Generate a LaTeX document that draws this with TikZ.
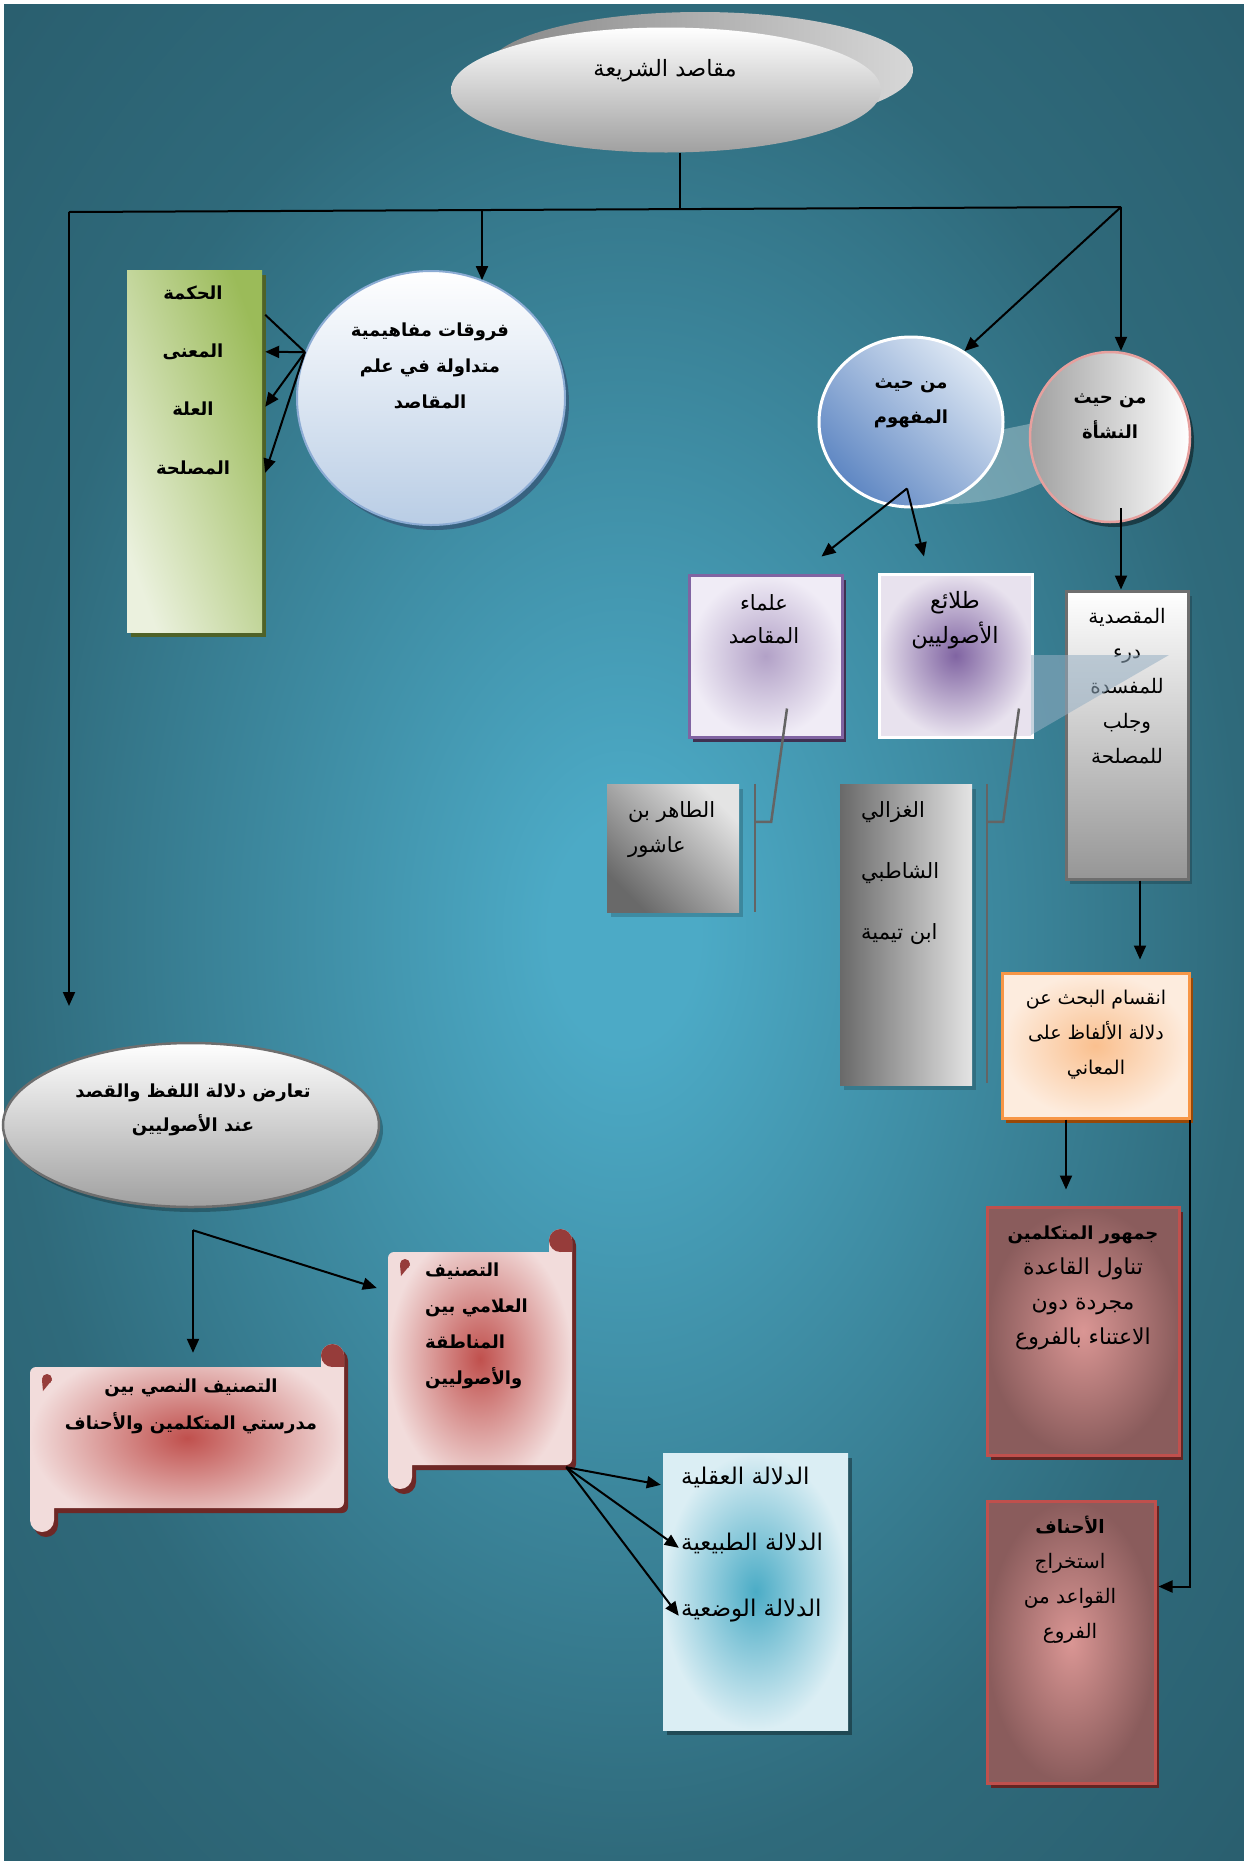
\documentclass[tikz,border=0pt]{standalone}
\usepackage{fontspec}
\usetikzlibrary{arrows.meta,shapes.geometric,shadows,calc}
\TeXXeTstate=1
\newfontfamily\arabicfont[Script=Arabic]{DejaVu Sans}
\newcommand\RL[1]{\beginR#1\endR}

% palette
\definecolor{bgIn}{RGB}{76,170,198}
\definecolor{bgOut}{RGB}{47,106,123}
\definecolor{bgCorner}{RGB}{42,95,111}
\definecolor{backL}{RGB}{135,135,135}
\definecolor{backR}{RGB}{215,215,215}
\definecolor{ovalBot}{RGB}{160,160,160}
\definecolor{furuqBorder}{RGB}{140,172,212}
\definecolor{furuqBot}{RGB}{185,205,229}
\definecolor{furuqShadow}{RGB}{55,98,128}
\definecolor{greenLight}{RGB}{235,241,222}
\definecolor{greenDark}{RGB}{155,187,89}
\definecolor{greenShadow}{RGB}{79,98,40}
\definecolor{mafLight}{RGB}{222,232,244}
\definecolor{mafDark}{RGB}{95,135,195}
\definecolor{nashaBorder}{RGB}{230,160,158}
\definecolor{nashaLeft}{RGB}{160,160,160}
\definecolor{olamaBorder}{RGB}{128,100,162}
\definecolor{olamaIn}{RGB}{178,161,199}
\definecolor{olamaOut}{RGB}{240,236,246}
\definecolor{olamaShadow}{RGB}{63,49,81}
\definecolor{talaeiIn}{RGB}{128,100,162}
\definecolor{talaeiOut}{RGB}{232,226,238}
\definecolor{maqBorder}{RGB}{110,110,110}
\definecolor{maqBot}{RGB}{150,150,150}
\definecolor{wedgeCol}{RGB}{150,175,195}
\definecolor{greyLight}{RGB}{228,228,228}
\definecolor{greyDark}{RGB}{105,105,105}
\definecolor{brkGray}{RGB}{100,100,100}
\definecolor{orangeIn}{RGB}{250,192,143}
\definecolor{orangeOut}{RGB}{253,236,222}
\definecolor{orangeBorder}{RGB}{247,150,70}
\definecolor{orangeShadow}{RGB}{152,72,7}
\definecolor{roseIn}{RGB}{218,150,148}
\definecolor{roseOut}{RGB}{138,92,92}
\definecolor{roseBorder}{RGB}{192,80,77}
\definecolor{roseShadow}{RGB}{99,37,35}
\definecolor{scrollIn}{RGB}{192,80,77}
\definecolor{scrollOut}{RGB}{242,220,219}
\definecolor{scrollShadow}{RGB}{110,40,38}
\definecolor{curlDark}{RGB}{150,60,58}
\definecolor{blueIn}{RGB}{75,172,198}
\definecolor{blueOut}{RGB}{219,238,244}

\pgfdeclareradialshading{pageshade}{\pgfpoint{0bp}{0bp}}{color(0bp)=(bgIn); color(3bp)=(bgIn); color(25bp)=(bgOut); color(35bp)=(bgCorner); color(50bp)=(bgCorner)}

% horizontal scroll outline: left, top, right, bottom, path options
\newcommand\drawscroll[5]{%
  \path[#5] (#1,#2+6) arc[start angle=180,end angle=90,radius=6pt]
    -- (#3-23,#2) -- (#3-23,#2-11.5) arc[start angle=180,end angle=0,radius=11.5pt]
    -- (#3,#4-6) arc[start angle=0,end angle=-90,radius=6pt]
    -- (#1+24,#4) -- (#1+24,#4+12) arc[start angle=0,end angle=-180,radius=12pt]
    -- cycle;}
% rolled ends of a scroll
\newcommand\scrollcurls[3]{%
  \fill[curlDark] (#3-11.5,#2-11.5) circle[radius=11.5pt];
  \fill[curlDark] (#3-11.5,#2-11.5) rectangle (#3,#2);
  \fill[curlDark] (#1+17,#2+12) circle[radius=5pt];
  \fill[curlDark] (#1+12,#2+13) -- (#1+22,#2+13) -- (#1+13,#2+24) -- cycle;}

\begin{document}
\begin{tikzpicture}[x=1pt,y=-1pt,
  arr/.style={draw=black,line width=2pt,-{Triangle[length=14pt,width=12pt]}},
  ln/.style={draw=black,line width=2pt},
  brk/.style={draw=brkGray,line width=2.5pt},
  txr/.style 2 args={font=\arabicfont\fontsize{#1}{#2}\selectfont,align=center,inner sep=0pt},
  txb/.style 2 args={font=\arabicfont\bfseries\fontsize{#1}{#2}\selectfont,align=center,inner sep=0pt},
  box/.style={rectangle,inner sep=0pt},
  oval/.style={ellipse,inner sep=0pt},
  hardshadow/.style={drop shadow={shadow xshift=4pt,shadow yshift=-5pt,fill=#1,opacity=1}},
  softshadow/.style={drop shadow={shadow xshift=4pt,shadow yshift=-5pt,fill=black,opacity=#1}},
]
\useasboundingbox (0,0) rectangle (1244,1861);
\fill[white] (0,0) rectangle (1244,1861);
\path[shading=pageshade] (4,4) rectangle (1244,1861);

% ---------- title ----------
\path[left color=backL,right color=backR] (700,70) ellipse[x radius=213,y radius=58];
\node[oval,minimum width=430pt,minimum height=125pt,top color=white,bottom color=ovalBot] (sharia) at (666,90) {};
\node[txr={22.5pt}{28pt}] (sharia-t) at (665,71) {\RL{مقاصد الشريعة}};

% ---------- distribution bus ----------
\coordinate (busL) at (69,212);
\coordinate (busR) at (1121,207);
\coordinate (busM) at (680,209.4);
\coordinate (busF) at (482,210.3);
\coordinate (leftEnd) at (69,1006);
\draw[ln] ([xshift=14pt]sharia.south) -- (busM);
\draw[ln] (busL) -- (busR);
\draw[arr] (busL) -- (leftEnd);

% ---------- conceptual differences ----------
\node[oval,minimum width=268pt,minimum height=254pt,draw=furuqBorder,line width=2pt,
      top color=white,bottom color=furuqBot,hardshadow=furuqShadow] (furuq) at (431,398) {};
\node[txb={18pt}{36pt}] (furuq-t) at (430,366) {\RL{فروقات مفاهيمية}\\\RL{متداولة في علم}\\\RL{المقاصد}};
\draw[arr] (busF) -- (busF |- furuq.66);

\node[box,minimum width=135pt,minimum height=362pt,top color=greenLight,bottom color=greenDark,
      shading angle=110,hardshadow=greenShadow] (hikma) at (194.5,451) {};
\node[txb={18pt}{24pt}] (hikma-1) at (193,293) {\RL{الحكمة}};
\node[txb={18pt}{24pt}] (hikma-2) at (193,352) {\RL{المعنى}};
\node[txb={18pt}{24pt}] (hikma-3) at (193,409) {\RL{العلة}};
\node[txb={18pt}{24pt}] (hikma-4) at (193,468) {\RL{المصلحة}};
\coordinate (fk) at (furuq.160);
\draw[ln] (fk) -- ($(hikma.north east)+(3,45)$);
\draw[arr] (fk) -- ($(hikma.north east)+(3,82)$);
\draw[arr] (fk) -- ($(hikma.north east)+(3,137)$);
\draw[arr] (fk) -- ($(hikma.north east)+(3,203)$);

% ---------- concept / origin ----------
\fill[white,opacity=.3] (1000,430) -- (1034,423) -- (1044,482) .. controls (1010,498) and (975,505) .. (940,504) -- cycle;
\node[oval,minimum width=184pt,minimum height=170pt,draw=white,line width=3pt,
      top color=mafLight,bottom color=mafDark,shading angle=-45] (mafhum) at (911,422) {};
\node[txb={18pt}{35pt}] (mafhum-t) at (911,403) {\RL{من حيث}\\\RL{المفهوم}};
\node[oval,minimum width=160pt,minimum height=170pt,draw=nashaBorder,line width=2.5pt,
      left color=nashaLeft,right color=white,softshadow=.45] (nasha) at (1110,437) {};
\node[txb={18pt}{35pt}] (nasha-t) at (1110,416) {\RL{من حيث}\\\RL{النشأة}};
\draw[arr] (busR) -- (mafhum.53);
\draw[arr] (busR) -- (busR |- nasha.north);

% ---------- schools ----------
\node[box,minimum width=153pt,minimum height=162pt,draw=olamaBorder,line width=3pt,
      inner color=olamaIn,outer color=olamaOut,hardshadow=olamaShadow] (olama) at (765.5,656) {};
\node[txr={21pt}{33pt}] (olama-t) at (764,619) {\RL{علماء}\\\RL{المقاصد}};
\node[box,minimum width=153pt,minimum height=163pt,draw=white,line width=3pt,
      inner color=talaeiIn,outer color=talaeiOut] (talaei) at (955.5,655.5) {};
\node[txr={22.5pt}{35pt}] (talaei-t) at (955,620) {\RL{طلائع}\\\RL{الأصوليين}};
\node[box,minimum width=122pt,minimum height=288pt,draw=maqBorder,line width=3pt,
      top color=white,bottom color=maqBot,softshadow=.2] (maqsadiya) at (1127,735) {};
\node[txr={20pt}{35pt}] (maqsadiya-t) at (1127,686) {\RL{المقصدية}\\\RL{درء}\\\RL{للمفسدة}\\\RL{وجلب}\\\RL{للمصلحة}};
\fill[wedgeCol,opacity=.55] (1031,655) -- (1169,655) -- (1031,735) -- cycle;

\coordinate (mfo) at ($(mafhum.south)+(-4,-20)$);
\coordinate (olamaIn) at ($(olama.north)+(56,-17)$);
\coordinate (talaeiIn) at ($(talaei.north)+(-31.5,-16)$);
\draw[arr] (mfo) -- (olamaIn);
\draw[arr] (mfo) -- (talaeiIn);
\coordinate (nso) at ($(nasha.south)+(11,-15)$);
\draw[arr] (nso) -- (nso |- maqsadiya.north);

% ---------- scholars ----------
\node[box,minimum width=132pt,minimum height=128pt,top color=greyLight,bottom color=greyDark,
      shading angle=-45,softshadow=.18] (taher) at (673,848) {};
\node[txr={21pt}{35pt},align=left,anchor=west] (taher-t) at (628,830) {\RL{الطاهر بن}\\\RL{عاشور}};
\node[box,minimum width=132pt,minimum height=301pt,left color=greyDark,right color=greyLight,
      softshadow=.18] (ghazali) at (906,934.5) {};
\node[txr={21pt}{61pt},align=left,anchor=west] (ghazali-t) at (861,873) {\RL{الغزالي}\\\RL{الشاطبي}\\\RL{ابن تيمية}};

\coordinate (tbT) at ($(taher.north east)+(16,0)$);
\coordinate (tbB) at ($(taher.south east)+(16,0)$);
\coordinate (tbM) at ($(taher.north east)+(16,38)$);
\coordinate (tbK) at ($(taher.north east)+(32,38)$);
\coordinate (tbE) at ($(olama.south)+(21.5,-30)$);
\draw[brk] (tbT) -- (tbB);
\draw[brk] (tbE) -- (tbK) -- (tbM);
\coordinate (gbT) at ($(ghazali.north east)+(15,0)$);
\coordinate (gbB) at ($(ghazali.south east)+(15,-2)$);
\coordinate (gbM) at ($(ghazali.north east)+(15,38)$);
\coordinate (gbK) at ($(ghazali.north east)+(31,38)$);
\coordinate (gbE) at ($(talaei.south)+(63.5,-30)$);
\draw[brk] (gbT) -- (gbB);
\draw[brk] (gbE) -- (gbK) -- (gbM);

% ---------- meaning of words ----------
\node[box,minimum width=187pt,minimum height=145pt,draw=orangeBorder,line width=3pt,
      inner color=orangeIn,outer color=orangeOut,hardshadow=orangeShadow] (inqisam) at (1095.5,1045.5) {};
\node[txr={19pt}{35pt}] (inqisam-t) at (1096,1035) {\RL{انقسام البحث عن}\\\RL{دلالة الألفاظ على}\\\RL{المعاني}};
\coordinate (mqo) at ($(maqsadiya.south)+(13,0)$);
\coordinate (iqIn) at ($(inqisam.north)+(44.5,-12)$);
\draw[arr] (mqo) -- (iqIn);

\node[box,minimum width=192pt,minimum height=248pt,draw=roseBorder,line width=3pt,
      inner color=roseIn,outer color=roseOut,hardshadow=roseShadow] (jumhur) at (1083,1331) {};
\node[txr={22pt}{35pt}] (jumhur-t) at (1083,1288) {{\bfseries\fontsize{18pt}{35pt}\selectfont\RL{جمهور المتكلمين}}\\\RL{تناول القاعدة}\\\RL{مجردة دون}\\\RL{الاعتناء بالفروع}};
\node[box,minimum width=168pt,minimum height=282pt,draw=roseBorder,line width=3pt,
      inner color=roseIn,outer color=roseOut,hardshadow=roseShadow] (ahnaf) at (1071,1642) {};
\node[txr={20pt}{35pt}] (ahnaf-t) at (1070,1580) {{\bfseries\fontsize{18.5pt}{35pt}\selectfont\RL{الأحناف}}\\\RL{استخراج}\\\RL{القواعد من}\\\RL{الفروع}};

\coordinate (iqL) at ($(inqisam.south)+(-29.5,0)$);
\coordinate (jmIn) at ($(jumhur.north)+(-17,-16)$);
\draw[arr] (iqL) -- (jmIn);
\coordinate (iqR) at ($(inqisam.south east)+(-1,0)$);
\coordinate (ahIn) at ($(ahnaf.north east)+(2,87)$);
\draw[arr] (iqR) |- (ahIn);

% ---------- conflict of wording and intent ----------
\node[oval,minimum width=376pt,minimum height=164pt,draw=maqBorder,line width=2.5pt,
      top color=white,bottom color=ovalBot,softshadow=.25] (taarud) at (191,1125) {};
\node[txb={18pt}{34pt}] (taarud-t) at (193,1110) {\RL{تعارض دلالة اللفظ والقصد}\\\RL{عند الأصوليين}};

\node[box,minimum width=184pt,minimum height=213pt] (scrR) at (480,1358.5) {};
\node[box,minimum width=314pt,minimum height=141pt] (scrL) at (187,1437.5) {};
\drawscroll{388}{1252}{572}{1465}{fill=scrollShadow,xshift=4pt,yshift=-5pt}
\drawscroll{388}{1252}{572}{1465}{inner color=scrollIn,outer color=scrollOut}
\scrollcurls{388}{1252}{572}
\drawscroll{30}{1367}{344}{1508}{fill=scrollShadow,xshift=4pt,yshift=-5pt}
\drawscroll{30}{1367}{344}{1508}{inner color=scrollIn,outer color=scrollOut}
\scrollcurls{30}{1367}{344}
\node[txb={18pt}{36pt},align=left,anchor=west] (scrR-t) at (425,1326) {\RL{التصنيف}\\\RL{العلامي بين}\\\RL{المناطقة}\\\RL{والأصوليين}};
\node[txb={18pt}{37pt}] (scrL-t) at (191,1406) {\RL{التصنيف النصي بين}\\\RL{مدرستي المتكلمين والأحناف}};

\coordinate (tjo) at ($(taarud.south)+(2,22)$);
\coordinate (slIn) at ($(scrL.north)+(6,-14)$);
\coordinate (srIn) at ($(scrR.west)+(-11,-70.5)$);
\draw[arr] (tjo) -- (slIn);
\draw[arr] (tjo) -- (srIn);

% ---------- kinds of signification ----------
\node[box,minimum width=185pt,minimum height=277pt,inner color=blueIn,outer color=blueOut,
      softshadow=.35] (dalala) at (755.5,1591.5) {};
\node[txr={23pt}{66pt},align=left,anchor=west] (dalala-t) at (681,1545) {\RL{الدلالة العقلية}\\\RL{الدلالة الطبيعية}\\\RL{الدلالة الوضعية}};
\coordinate (sro) at ($(scrR.south east)+(-6,2)$);
\draw[arr] (sro) -- ($(dalala.north west)+(-2,32)$);
\draw[arr] (sro) -- ($(dalala.north west)+(16,95)$);
\draw[arr] (sro) -- ($(dalala.north west)+(16,163)$);
\end{tikzpicture}
\end{document}
